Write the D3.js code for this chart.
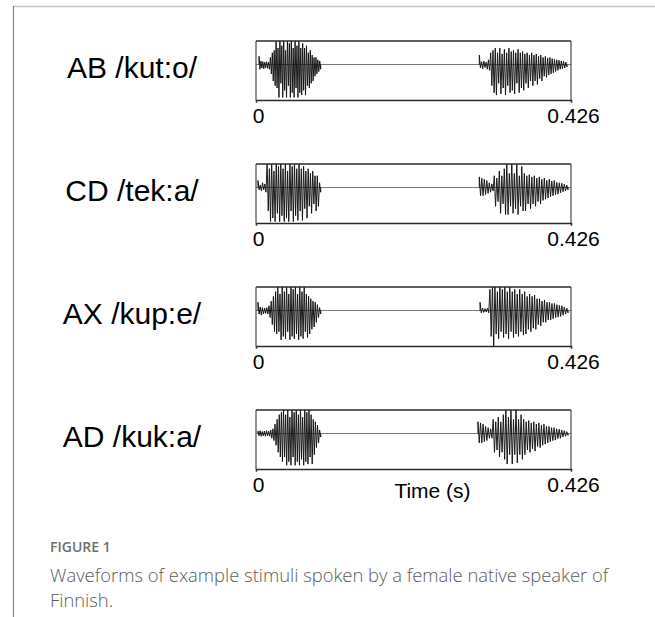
<!DOCTYPE html>
<html>
<head>
<meta charset="utf-8">
<script src="https://cdn.jsdelivr.net/npm/d3@7"></script>
<style>
  body { margin: 0; background: #fff; }
  svg { display: block; }
</style>
</head>
<body>
<div id="chart"></div>
<script>
// stimulus labels (left column)
var stimulusLabels = ["AB /kut:o/", "CD /tek:a/", "AX /kup:e/", "AD /kuk:a/"];

// time axis
var timeDomain = [0, 0.426];
var tickTimes = [0, 0.426];
var tickLabels = ["0", "0.426"];
var axisTitle = "Time (s)";

// start / end time (s) of the two voiced parts of every word
var abSegments = [[0.0041, 0.0875], [0.3020, 0.4206]];
var cdSegments = [[0.0027, 0.0875], [0.3020, 0.4220]];
var axSegments = [[0.0027, 0.0875], [0.3030, 0.4220]];
var adSegments = [[0.0027, 0.0875], [0.3002, 0.4220]];

// amplitude peaks (1 = top of the box), alternating +/-
var abVowel1 = [0.35,-0.2, 0.15,-0.15, 0.12,-0.18, 0.1,-0.14, 0.12,-0.16, 0.1,-0.2,
  0.3,-0.4, 0.5,-0.7, 0.6,-0.9,
  1.1,-1.0, 0.7,-1.4, 1.1,-0.8, 0.8,-1.4, 1.1,-1.1, 0.6,-1.4, 1.1,-0.9, 0.9,-1.4,
  1.1,-1.2, 0.7,-1.4, 1.1,-1.0, 0.8,-1.4, 1.1,-1.2, 0.7,-1.3,
  0.9,-1.1, 0.7,-1.3, 0.8,-0.9, 0.5,-1.0, 0.6,-0.8, 0.4,-0.7, 0.3,-0.5, 0.3,-0.4, 0.2,-0.3, 0.15,-0.2];
var abVowel2 = [0.4,-0.15, 0.12,-0.18, 0.15,-0.12, 0.1,-0.2, 0.2,-0.25,
  0.5,-0.9, 0.6,-1.2,
  0.7,-1.3, 0.5,-0.8, 0.7,-1.25, 0.45,-1.0, 0.65,-1.3, 0.5,-0.9, 0.7,-1.2, 0.55,-1.1, 0.6,-1.25, 0.5,-0.8, 0.65,-1.2, 0.5,-1.0,
  0.55,-1.1, 0.45,-0.8, 0.5,-1.0, 0.4,-0.7, 0.5,-0.9, 0.4,-0.7, 0.45,-0.85, 0.35,-0.6, 0.4,-0.7, 0.3,-0.5,
  0.35,-0.55, 0.28,-0.45, 0.3,-0.4, 0.25,-0.35, 0.22,-0.3, 0.2,-0.25, 0.18,-0.2, 0.15,-0.18, 0.14,-0.15, 0.1,-0.1];

var cdVowel1 = [0.3,-0.1, 0.1,-0.15, 0.2,-0.1, 0.15,-0.2,
  1.1,-1.0, 0.8,-1.45, 1.1,-1.3, 0.7,-1.45, 1.1,-1.1, 0.9,-1.45, 1.1,-1.2, 0.8,-1.45, 1.1,-1.3, 0.7,-1.45,
  1.1,-1.0, 0.9,-1.45, 1.1,-1.2, 0.8,-1.4,
  1.0,-1.0, 0.8,-1.4, 0.9,-0.9, 0.7,-1.3, 0.8,-0.8, 0.6,-1.1, 0.7,-0.7, 0.5,-1.0, 0.5,-0.8, 0.2,-0.2];
var cdVowel2 = [0.45,-0.35, 0.4,-0.35, 0.35,-0.3, 0.3,-0.25, 0.2,-0.2, 0.15,-0.15,
  0.5,-0.8, 0.4,-0.6, 0.7,-1.1, 0.5,-0.7, 0.8,-1.15,
  1.1,-1.15, 0.6,-0.8, 1.1,-1.1, 0.6,-0.9, 1.1,-1.15, 0.5,-0.8, 0.9,-1.0,
  0.6,-1.0, 0.5,-0.7, 0.55,-0.9, 0.45,-0.7, 0.5,-0.8, 0.4,-0.6, 0.45,-0.7, 0.35,-0.55, 0.4,-0.5,
  0.3,-0.45, 0.35,-0.4, 0.28,-0.35, 0.3,-0.3, 0.22,-0.28, 0.2,-0.22, 0.18,-0.18, 0.14,-0.15, 0.1,-0.1];

var axVowel1 = [0.35,-0.15, 0.15,-0.2, 0.12,-0.15, 0.1,-0.12, 0.12,-0.15, 0.2,-0.3,
  0.4,-0.6, 0.6,-0.9, 0.8,-1.0,
  1.1,-0.9, 0.7,-1.25, 1.1,-1.1, 0.8,-1.2, 1.1,-0.9, 0.7,-1.25, 1.1,-1.1, 0.9,-1.2,
  1.1,-1.0, 0.7,-1.25, 1.1,-1.1, 0.8,-1.2, 1.0,-0.9, 0.7,-1.15,
  0.6,-1.0, 0.5,-0.8, 0.4,-0.7, 0.35,-0.5, 0.25,-0.3, 0.12,-0.15];
var axVowel2 = [0.35,-0.1, 0.1,-0.08, 0.08,-0.06, 0.1,-0.1,
  0.9,-1.1, 1.1,-1.6, 1.1,-1.0, 0.8,-1.2, 1.1,-0.9, 0.9,-1.15, 1.1,-1.0, 0.8,-1.2,
  1.0,-0.9, 0.8,-1.15, 0.9,-1.0, 0.7,-1.1, 0.9,-0.9, 0.7,-1.05,
  0.8,-1.0, 0.6,-0.8, 0.7,-0.9, 0.6,-0.75, 0.65,-0.8, 0.5,-0.6, 0.5,-0.65, 0.4,-0.5, 0.45,-0.5,
  0.35,-0.4, 0.35,-0.4, 0.3,-0.35, 0.3,-0.3, 0.25,-0.28, 0.22,-0.25, 0.2,-0.2, 0.15,-0.15, 0.1,-0.1];

var adVowel1 = [0.1,-0.1, 0.12,-0.12, 0.08,-0.1, 0.1,-0.12, 0.12,-0.1, 0.1,-0.12, 0.15,-0.2, 0.2,-0.3,
  0.4,-0.5, 0.6,-0.8, 0.8,-1.0, 0.9,-1.2,
  1.1,-1.0, 0.8,-1.35, 1.1,-1.2, 0.7,-1.35, 1.1,-1.0, 0.9,-1.35, 1.1,-1.2, 0.8,-1.35,
  1.1,-1.1, 0.7,-1.35, 1.1,-1.2, 0.9,-1.3, 1.0,-1.0, 0.8,-1.3,
  0.6,-0.9, 0.5,-0.6, 0.35,-0.4, 0.15,-0.15];
var adVowel2 = [0.5,-0.4, 0.45,-0.4, 0.4,-0.35, 0.3,-0.3, 0.25,-0.2, 0.2,-0.2,
  0.6,-0.8, 0.5,-0.7, 0.7,-1.0, 0.5,-0.8, 0.8,-1.1,
  1.1,-1.3, 0.7,-0.9, 1.1,-1.3, 0.6,-0.9, 1.1,-1.25, 0.6,-0.9, 0.8,-1.1,
  0.6,-0.9, 0.5,-0.7, 0.55,-0.8, 0.45,-0.65, 0.5,-0.75, 0.4,-0.55, 0.45,-0.6, 0.35,-0.5, 0.4,-0.45,
  0.3,-0.4, 0.3,-0.35, 0.25,-0.3, 0.25,-0.28, 0.2,-0.22, 0.18,-0.2, 0.15,-0.15, 0.12,-0.12, 0.08,-0.08];

var figureLabel = "FIGURE 1";
var captionLines = ["Waveforms of example stimuli spoken by a female native speaker of", "Finnish."];

// table the drawing code works from
var stimuli = [
  { label: stimulusLabels[0], segments: abSegments, samples: [abVowel1, abVowel2] },
  { label: stimulusLabels[1], segments: cdSegments, samples: [cdVowel1, cdVowel2] },
  { label: stimulusLabels[2], segments: axSegments, samples: [axVowel1, axVowel2] },
  { label: stimulusLabels[3], segments: adSegments, samples: [adVowel1, adVowel2] }
];

var W = 655, H = 617;
var boxLeft = 256, boxRight = 571;
var boxTop0 = 41, panelStep = 123, boxH = 59;

var svg = d3.select("#chart").append("svg")
  .attr("width", W)
  .attr("height", H);

// page frame
svg.append("line")
  .attr("x1", 13).attr("x2", W).attr("y1", 6.5).attr("y2", 6.5)
  .attr("stroke", "#c4c4c4").attr("stroke-width", 1.5);
svg.append("line")
  .attr("x1", 13.5).attr("x2", 13.5).attr("y1", 6).attr("y2", H)
  .attr("stroke", "#8a8a8a").attr("stroke-width", 1.3);

var x = d3.scaleLinear()
  .domain(timeDomain)
  .range([boxLeft, boxRight]);

// amplitude scale, inside one panel
var y = d3.scaleLinear()
  .domain([-1.51, 1])
  .range([boxH, 0]);

var defs = svg.append("defs");
defs.append("clipPath").attr("id", "boxclip")
  .append("rect")
  .attr("x", boxLeft).attr("y", 0)
  .attr("width", boxRight - boxLeft).attr("height", boxH);

var line = d3.line().x(function (d) { return d[0]; }).y(function (d) { return d[1]; });

stimuli.forEach(function (s, i) {
  var top = boxTop0 + i * panelStep;
  var g = svg.append("g").attr("transform", "translate(0," + top + ")");

  // word label
  g.append("text")
    .attr("x", 132)
    .attr("y", 37)
    .attr("text-anchor", "middle")
    .style("font-family", "'Liberation Sans', Arial, sans-serif")
    .style("font-size", "30px")
    .attr("fill", "#000")
    .text(s.label);

  var wave = g.append("g").attr("clip-path", "url(#boxclip)");

  // silent baseline
  wave.append("line")
    .attr("x1", boxLeft).attr("x2", boxRight)
    .attr("y1", y(0)).attr("y2", y(0))
    .attr("stroke", "#7a7a7a").attr("stroke-width", 1);

  // voiced parts
  s.segments.forEach(function (seg, k) {
    var vals = s.samples[k];
    var n = vals.length;
    var pts = [[x(seg[0]), y(0)]];
    vals.forEach(function (v, j) {
      var t = seg[0] + (seg[1] - seg[0]) * j / (n - 1);
      pts.push([x(t), y(v)]);
    });
    pts.push([x(seg[1]), y(0)]);
    wave.append("path")
      .attr("d", line(pts))
      .attr("fill", "none")
      .attr("stroke", "#111")
      .attr("stroke-width", 0.95)
      .attr("stroke-linejoin", "bevel");
  });

  // box: top, left and right edges
  g.append("line")
    .attr("x1", boxLeft).attr("x2", boxRight).attr("y1", 0).attr("y2", 0)
    .attr("stroke", "#2a2a2a").attr("stroke-width", 1.6);
  g.append("line")
    .attr("x1", boxLeft).attr("x2", boxLeft).attr("y1", 0).attr("y2", boxH)
    .attr("stroke", "#3a3a3a").attr("stroke-width", 1.1);
  g.append("line")
    .attr("x1", boxRight).attr("x2", boxRight).attr("y1", 0).attr("y2", boxH)
    .attr("stroke", "#3a3a3a").attr("stroke-width", 1.1);

  // time axis
  var axis = g.append("g")
    .attr("class", "x axis")
    .attr("transform", "translate(0," + boxH + ")")
    .call(d3.axisBottom(x)
      .tickValues(tickTimes)
      .tickSizeOuter(0)
      .tickSize(2.5)
      .tickFormat(function (d, j) { return tickLabels[j]; }));
  axis.select(".domain").attr("stroke", "#2a2a2a").attr("stroke-width", 1.6);
  axis.selectAll(".tick line").attr("stroke", "#3a3a3a").attr("stroke-width", 1.1);
  axis.selectAll(".tick text")
    .attr("y", 23)
    .attr("dy", 0)
    .attr("dx", 2)
    .attr("fill", "#000")
    .style("font-family", "'Liberation Sans', Arial, sans-serif")
    .style("font-size", "21px");

  if (i === stimuli.length - 1) {
    g.append("text")
      .attr("x", (x(timeDomain[0]) + x(timeDomain[1])) / 2 + 19)
      .attr("y", boxH + 29)
      .attr("text-anchor", "middle")
      .style("font-family", "'Liberation Sans', Arial, sans-serif")
      .style("font-size", "21px")
      .attr("fill", "#000")
      .text(axisTitle);
  }
});

// caption
svg.append("text")
  .attr("x", 50)
  .attr("y", 552)
  .style("font-family", "'Open Sans', sans-serif")
  .style("font-size", "14px")
  .style("font-weight", 600)
  .attr("fill", "#6e6e6e")
  .text(figureLabel);

svg.selectAll(".caption")
  .data(captionLines)
  .enter().append("text")
  .attr("class", "caption")
  .attr("x", 50)
  .attr("y", function (d, i) { return 582 + i * 25; })
  .style("font-family", "'Open Sans', sans-serif")
  .style("font-size", "18.4px")
  .style("font-weight", 300)
  .attr("fill", "#5c5c5c")
  .text(function (d) { return d; });
</script>
</body>
</html>
